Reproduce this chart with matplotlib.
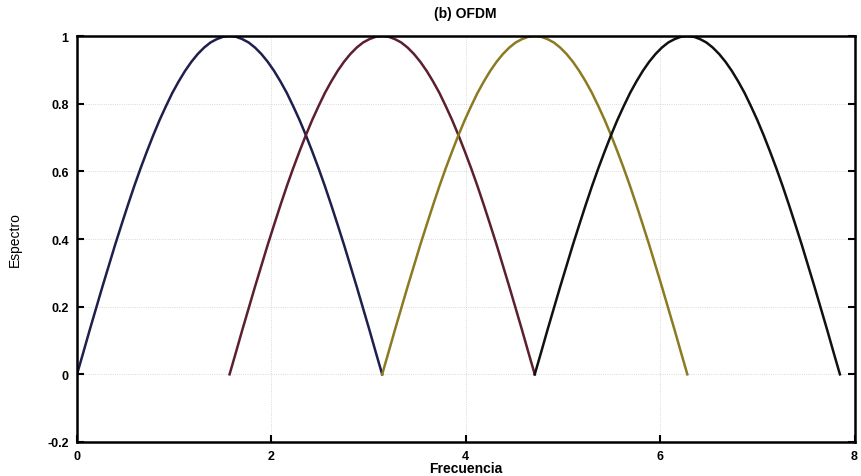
import numpy as np
import matplotlib.pyplot as plt

# Spectrum of four OFDM subcarriers.
# Each carrier is one half-arch; offsets are where each arch starts.
starts = [0.0, 1.57, 3.14, 4.71]
width = 3.14
# rising half of the arch, the falling half is its mirror
arch_half = [0.0, 0.065, 0.131, 0.195, 0.259, 0.321, 0.383, 0.442, 0.5,
             0.556, 0.609, 0.659, 0.707, 0.752, 0.793, 0.832, 0.866, 0.897,
             0.924, 0.947, 0.966, 0.981, 0.991, 0.998, 1.0]
arch_y = arch_half + arch_half[-2::-1]
colors = ["#1f1f4d", "#5c1f2e", "#8c7a22", "#111111"]

xticks = [0, 2, 4, 6, 8]
yticks = [-0.2, 0, 0.2, 0.4, 0.6, 0.8, 1]
ytick_labels = ["-0.2", "0", "0.2", "0.4", "0.6", "0.8", "1"]

plt.rcParams["font.family"] = ["Liberation Sans", "DejaVu Sans"]

fig = plt.figure(figsize=(8.62, 4.77), dpi=100)
ax = fig.add_axes([0.0893, 0.0713, 0.902, 0.851])

frac = np.linspace(0, 1, len(arch_y))
for s, c in zip(starts, colors):
    ax.plot(s + frac * width, arch_y, color=c, lw=1.8)

ax.set_xlim(0, 8)
ax.set_ylim(-0.2, 1)
ax.set_xticks(xticks)
ax.set_xticklabels([str(t) for t in xticks], fontweight="bold", fontsize=9)
ax.set_yticks(yticks)
ax.set_yticklabels(ytick_labels, fontweight="bold", fontsize=9)
ax.tick_params(direction="in", length=5, width=1.5, right=True, top=False, pad=6)
ax.grid(True, color="#aaaaaa", ls=":", lw=0.6, alpha=0.6)
for sp in ax.spines.values():
    sp.set_linewidth(1.8)

ax.set_title("(b) OFDM", fontweight="bold", fontsize=10, pad=14)
ax.set_xlabel("Frecuencia", fontweight="bold", fontsize=10, labelpad=-1)
ax.set_ylabel("Espectro", fontsize=10, labelpad=18, fontstretch="condensed")

fig.savefig("out.png", dpi=100)
